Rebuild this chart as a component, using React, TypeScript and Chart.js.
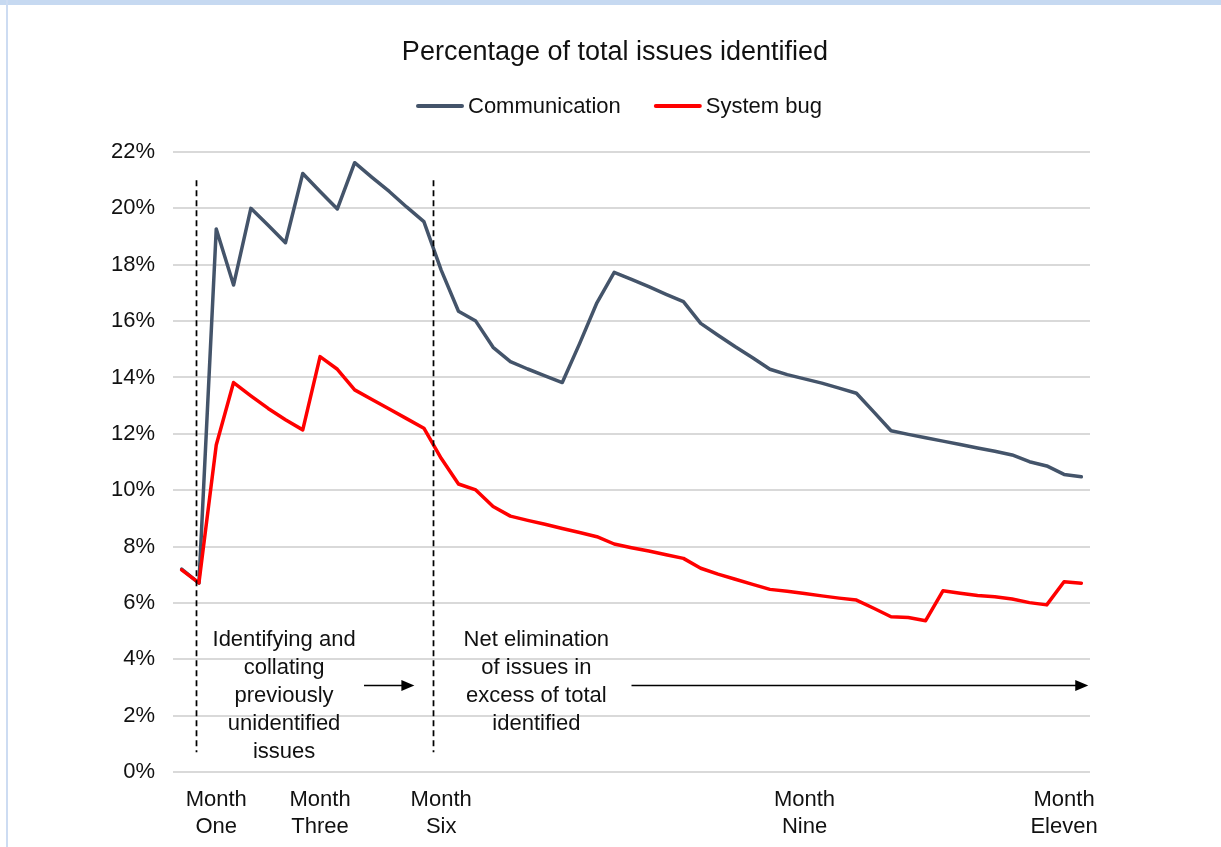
import React, { useEffect, useRef } from 'react';
import { Chart, registerables } from 'chart.js';

Chart.register(...registerables);

// ---------- data ----------
const seriesNames = ['Communication', 'System bug'];
const seriesColors = ['#44546a', '#ff0000'];

const communication = [
  7.2, 6.7, 19.27, 17.28, 20.0, 19.4, 18.78, 21.24, 20.6, 19.98,
  21.62, 21.1, 20.6, 20.05, 19.53, 17.81, 16.35, 16.0, 15.07, 14.56,
  14.3, 14.06, 13.82, 15.2, 16.65, 17.73, 17.48, 17.22, 16.95, 16.69,
  15.92, 15.5, 15.09, 14.7, 14.29, 14.1, 13.95, 13.8, 13.62, 13.44,
  12.78, 12.11, 11.98, 11.86, 11.74, 11.62, 11.5, 11.38, 11.25, 11.01,
  10.86, 10.56, 10.48,
];

const systemBug = [
  7.17, 6.71, 11.6, 13.82, 13.35, 12.9, 12.5, 12.14, 14.74, 14.29,
  13.56, 13.22, 12.88, 12.54, 12.2, 11.13, 10.22, 10.01, 9.42, 9.08,
  8.93, 8.79, 8.64, 8.5, 8.35, 8.09, 7.96, 7.84, 7.71, 7.58,
  7.23, 7.02, 6.84, 6.66, 6.48, 6.41, 6.33, 6.25, 6.17, 6.1,
  5.81, 5.51, 5.48, 5.37, 6.43, 6.34, 6.26, 6.22, 6.14, 6.01,
  5.93, 6.75, 6.7,
];

const periods = communication.map((_, i) => `Week ${i + 1}`);
const monthTickIndex = [2, 8, 15, 36, 51];
const monthTickNames = ['One', 'Three', 'Six', 'Nine', 'Eleven'];

const yMin = 0;
const yMax = 22;
const yStep = 2;

const chartTitle = 'Percentage of total issues identified';

// annotation data (category index / percent units)
const phaseBoundaries = [0.83, 14.53];
const boundaryTop = 21.0;
const boundaryBottom = 0.7;
const phaseTexts = [
  ['Identifying and', 'collating', 'previously', 'unidentified', 'issues'],
  ['Net elimination', 'of issues in', 'excess of total', 'identified'],
];
const phaseTextCenters = [5.92, 20.5];
const phaseTextTop = 4.68;
const arrowStarts = [10.54, 26.0];
const arrowEnds = [13.45, 52.4];
const arrowLevel = 3.09;

// ---------- styles ----------
const FONT = '"Liberation Sans", Arial, Helvetica, sans-serif';
const TEXT = '#111111';

const headerPlugin = {
  id: 'header',
  afterDraw(chart: any) {
    const ctx = chart.ctx;
    const top = chart.chartArea.top;
    ctx.save();
    // title
    ctx.font = `27px ${FONT}`;
    ctx.fillStyle = TEXT;
    ctx.textAlign = 'center';
    ctx.textBaseline = 'middle';
    ctx.fillText(chartTitle, 615, top - 99);
    // legend
    const cx = 619;
    const cy = top - 46;
    ctx.font = `22px ${FONT}`;
    ctx.textAlign = 'left';
    const sample = 48;
    const sGap = 4;
    const gap = 33;
    const items = chart.data.datasets.map((ds: any) => ({
      text: ds.label,
      color: ds.borderColor,
      w: sample + sGap + ctx.measureText(ds.label).width,
    }));
    const total = items.reduce((a: number, it: any) => a + it.w, 0) + gap * (items.length - 1);
    let x = cx - total / 2;
    items.forEach((it: any) => {
      ctx.strokeStyle = it.color;
      ctx.lineWidth = 4;
      ctx.lineCap = 'round';
      ctx.beginPath();
      ctx.moveTo(x + 2, cy);
      ctx.lineTo(x + sample - 2, cy);
      ctx.stroke();
      ctx.fillStyle = TEXT;
      ctx.fillText(it.text, x + sample + sGap, cy + 1);
      x += it.w + gap;
    });
    ctx.restore();
  },
};

const annotationPlugin = {
  id: 'phaseAnnotations',
  afterDatasetsDraw(chart: any) {
    const ctx = chart.ctx;
    const xs = chart.scales.x;
    const ys = chart.scales.y;
    ctx.save();
    // dashed boundaries
    ctx.strokeStyle = '#000000';
    ctx.lineWidth = 1.75;
    ctx.setLineDash([6, 4]);
    phaseBoundaries.forEach((b) => {
      const px = Math.round(xs.getPixelForValue(b)) + 0.5;
      ctx.beginPath();
      ctx.moveTo(px, ys.getPixelForValue(boundaryTop));
      ctx.lineTo(px, ys.getPixelForValue(boundaryBottom));
      ctx.stroke();
    });
    ctx.setLineDash([]);
    // texts
    ctx.font = `22px ${FONT}`;
    ctx.fillStyle = TEXT;
    ctx.textAlign = 'center';
    ctx.textBaseline = 'middle';
    const lh = 28;
    phaseTexts.forEach((lines, k) => {
      const px = xs.getPixelForValue(phaseTextCenters[k]);
      const py0 = ys.getPixelForValue(phaseTextTop);
      lines.forEach((ln, i) => ctx.fillText(ln, px, py0 + i * lh));
    });
    // arrows
    ctx.strokeStyle = '#000000';
    ctx.fillStyle = '#000000';
    ctx.lineWidth = 1.5;
    arrowStarts.forEach((s, k) => {
      const x1 = xs.getPixelForValue(s);
      const x2 = xs.getPixelForValue(arrowEnds[k]);
      const y = Math.round(ys.getPixelForValue(arrowLevel)) + 0.5;
      const head = 13;
      ctx.beginPath();
      ctx.moveTo(x1, y);
      ctx.lineTo(x2 - head + 1, y);
      ctx.stroke();
      ctx.beginPath();
      ctx.moveTo(x2, y);
      ctx.lineTo(x2 - head, y - 5.5);
      ctx.lineTo(x2 - head, y + 5.5);
      ctx.closePath();
      ctx.fill();
    });
    ctx.restore();
  },
};

export default function App() {
  const ref = useRef<HTMLCanvasElement | null>(null);

  useEffect(() => {
    if (!ref.current) return;
    const chart = new Chart(ref.current, {
      type: 'line',
      data: {
        labels: periods,
        datasets: [
          {
            label: seriesNames[0],
            data: communication,
            borderColor: seriesColors[0],
            backgroundColor: seriesColors[0],
            borderWidth: 3.5,
            pointRadius: 0,
            tension: 0,
            borderJoinStyle: 'round',
            borderCapStyle: 'round',
            order: 2,
          },
          {
            label: seriesNames[1],
            data: systemBug,
            borderColor: seriesColors[1],
            backgroundColor: seriesColors[1],
            borderWidth: 3.5,
            pointRadius: 0,
            tension: 0,
            borderJoinStyle: 'round',
            borderCapStyle: 'round',
            order: 1,
          },
        ],
      },
      options: {
        animation: false,
        responsive: false,
        devicePixelRatio: 1,
        events: [],
        layout: { padding: { left: 0, right: 131, top: 152, bottom: 0 } },
        plugins: {
          legend: { display: false },
          tooltip: { enabled: false },
          title: { display: false },
        },
        scales: {
          x: {
            type: 'category',
            offset: true,
            grid: { display: false, drawTicks: false },
            border: { display: false },
            ticks: {
              autoSkip: false,
              maxRotation: 0,
              minRotation: 0,
              padding: 15,
              color: TEXT,
              font: { family: FONT, size: 22, lineHeight: 1.2 },
              callback: (_v: any, index: number) => {
                const k = monthTickIndex.indexOf(index);
                return k >= 0 ? ['Month', monthTickNames[k]] : '';
              },
            },
            afterFit: (s: any) => {
              s.height = 75;
            },
          },
          y: {
            min: yMin,
            max: yMax,
            ticks: {
              stepSize: yStep,
              padding: 18,
              color: TEXT,
              font: { family: FONT, size: 22 },
              callback: (v: any) => `${v}%`,
            },
            grid: { color: '#d9d9d9', lineWidth: 2, drawTicks: false },
            border: { display: false },
            afterFit: (s: any) => {
              s.width = 173;
            },
          },
        },
      },
      plugins: [headerPlugin, annotationPlugin],
    } as any);
    return () => chart.destroy();
  }, []);

  return (
    <div
      style={{
        position: 'absolute',
        left: 0,
        top: 0,
        width: 1221,
        height: 847,
        background: '#ffffff',
        overflow: 'hidden',
      }}
    >
      <div style={{ position: 'absolute', left: 0, top: 0, width: 1221, height: 5, background: '#c6d9f1' }} />
      <div style={{ position: 'absolute', left: 6, top: 0, width: 2, height: 847, background: '#cddcf2' }} />
      <canvas
        ref={ref}
        width={1221}
        height={847}
        style={{ position: 'absolute', left: 0, top: 0, width: 1221, height: 847 }}
      />
    </div>
  );
}
